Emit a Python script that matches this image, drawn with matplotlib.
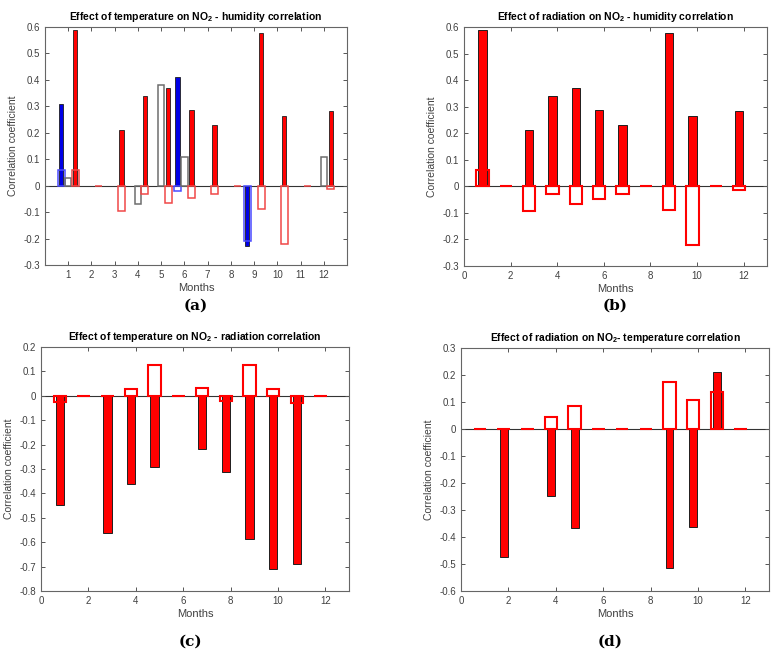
import numpy as np
import matplotlib
matplotlib.use('Agg')
import matplotlib.pyplot as plt

plt.rcParams['font.family'] = ['Liberation Sans', 'DejaVu Sans']
plt.rcParams['mathtext.fontset'] = 'custom'
plt.rcParams['mathtext.bf'] = 'Liberation Sans:bold'
plt.rcParams['mathtext.rm'] = 'Liberation Sans'

# Hónapok
months = np.arange(1, 13)

# (a) panel: kék és szürke sorozatok
a_blue_fill = [0.31, 0, 0, 0, 0, 0.41, 0, 0, -0.23, 0, 0, 0]
a_blue_out = [0.06, 0, 0, 0, 0, -0.02, 0, 0, -0.21, 0, 0, 0]
a_grey_out = [0.03, 0, 0, -0.07, 0.38, 0.11, 0, 0, 0, 0, 0, 0.11]

# (a) és (b) panel: sugárzás hatása a NO2 - páratartalom korrelációra
hum_fill = [0.587, 0, 0.212, 0.34, 0.371, 0.287, 0.23, 0, 0.576, 0.263, 0, 0.282]
hum_out = [0.06, 0, -0.094, -0.03, -0.066, -0.046, -0.03, 0, -0.089, -0.221, 0, -0.012]

# (c) panel
c_fill = [-0.448, 0, -0.564, -0.363, -0.293, 0, -0.219, -0.314, -0.588, -0.708, -0.688, 0]
c_out = [-0.026, 0, 0, 0.027, 0.128, 0, 0.031, -0.021, 0.126, 0.027, -0.030, 0]

# (d) panel
d_fill = [0, -0.474, 0, -0.248, -0.367, 0, 0, 0, -0.514, -0.362, 0.21, 0]
d_out = [0, 0, 0, 0.044, 0.086, 0, 0, 0, 0.175, 0.107, 0.137, 0]

titles = [r'Effect of temperature on NO$_{\mathbf{2}}$ - humidity correlation',
          r'Effect of radiation on NO$_{\mathbf{2}}$ - humidity correlation',
          r'Effect of temperature on NO$_{\mathbf{2}}$ - radiation correlation',
          r'Effect of radiation on NO$_{\mathbf{2}}$- temperature correlation']

RED = '#ff0000'
BLUE = '#0000e6'
EDGE = '#1e1e1e'
GREY = '#6e6e6e'

fig = plt.figure(figsize=(7.8, 6.58), dpi=100)
W, H = 780, 658


def make_ax(left, top, right, bottom):
    return fig.add_axes([left / W, 1 - bottom / H, (right - left) / W, (bottom - top) / H])


def nonzero(vals):
    v = np.asarray(vals, dtype=float)
    m = v != 0
    return months[m], v[m]


def style(ax, title, ylim, yticks, xticks):
    ax.set_xlim(0, 13)
    ax.set_ylim(*ylim)
    ax.set_yticks(yticks)
    ax.set_yticklabels(['0' if abs(t) < 1e-9 else f'{t:g}' for t in yticks])
    ax.set_xticks(xticks)
    ax.axhline(0, color='#333333', lw=0.8, zorder=1)
    ax.tick_params(direction='in', top=True, right=True, length=3, width=0.7,
                   colors='#555555', labelcolor='#404040', labelsize=7)
    for s in ax.spines.values():
        s.set_color('#666666')
        s.set_linewidth(0.8)
    ax.set_title(title, fontsize=7.5, fontweight='bold', pad=5)
    ax.set_xlabel('Months', fontsize=8, color='#404040', labelpad=2)
    ax.set_ylabel('Correlation coefficient', fontsize=7.5, color='#404040', labelpad=4)


# (a)
ax = make_ax(45, 27, 347, 265)
x, v = nonzero(a_blue_fill)
ax.bar(x - 0.3, v, width=0.19, color=BLUE, edgecolor=EDGE, lw=0.6, zorder=2)
x, v = nonzero(a_blue_out)
ax.bar(x - 0.3, v, width=0.3, facecolor='none', edgecolor='#4a4aff', lw=1.1, zorder=3)
x, v = nonzero(a_grey_out)
ax.bar(x, v, width=0.28, facecolor='none', edgecolor=GREY, lw=1.1, zorder=3)
ax.bar(months + 0.3, hum_fill, width=0.19, color=RED, edgecolor=EDGE, lw=0.6, zorder=2)
ax.bar(months + 0.3, hum_out, width=0.3, facecolor='none', edgecolor='#f04848', lw=1.1, zorder=3)
style(ax, titles[0], (-0.3, 0.6), np.round(np.arange(-0.3, 0.61, 0.1), 1), months)

# (b)
ax = make_ax(464, 27, 767, 266)
ax.bar(months - 0.2, hum_fill, width=0.36, color=RED, edgecolor=EDGE, lw=0.7, zorder=2)
ax.bar(months - 0.2, hum_out, width=0.53, facecolor='none', edgecolor=RED, lw=1.5, zorder=3)
style(ax, titles[1], (-0.3, 0.6), np.round(np.arange(-0.3, 0.61, 0.1), 1), np.arange(0, 13, 2))

# (c)
ax = make_ax(41, 347, 349, 591)
ax.bar(months - 0.2, c_fill, width=0.36, color=RED, edgecolor=EDGE, lw=0.7, zorder=2)
ax.bar(months - 0.2, c_out, width=0.53, facecolor='none', edgecolor=RED, lw=1.5, zorder=3)
style(ax, titles[2], (-0.8, 0.2), np.round(np.arange(-0.8, 0.21, 0.1), 1), np.arange(0, 13, 2))

# (d)
ax = make_ax(461, 348, 769, 591)
ax.bar(months - 0.2, d_fill, width=0.33, color=RED, edgecolor=EDGE, lw=0.7, zorder=2)
ax.bar(months - 0.2, d_out, width=0.53, facecolor='none', edgecolor=RED, lw=1.5, zorder=3)
style(ax, titles[3], (-0.6, 0.3), np.round(np.arange(-0.6, 0.31, 0.1), 1), np.arange(0, 13, 2))

# Panel betűjelek
for x, y, lab in [(196, 306, '(a)'), (615, 306, '(b)'), (190, 642, '(c)'), (610, 642, '(d)')]:
    fig.text(x / W, 1 - y / H, lab, ha='center', va='center', fontsize=11,
             family='DejaVu Serif', fontweight='bold')

fig.savefig('out.png', dpi=100)
